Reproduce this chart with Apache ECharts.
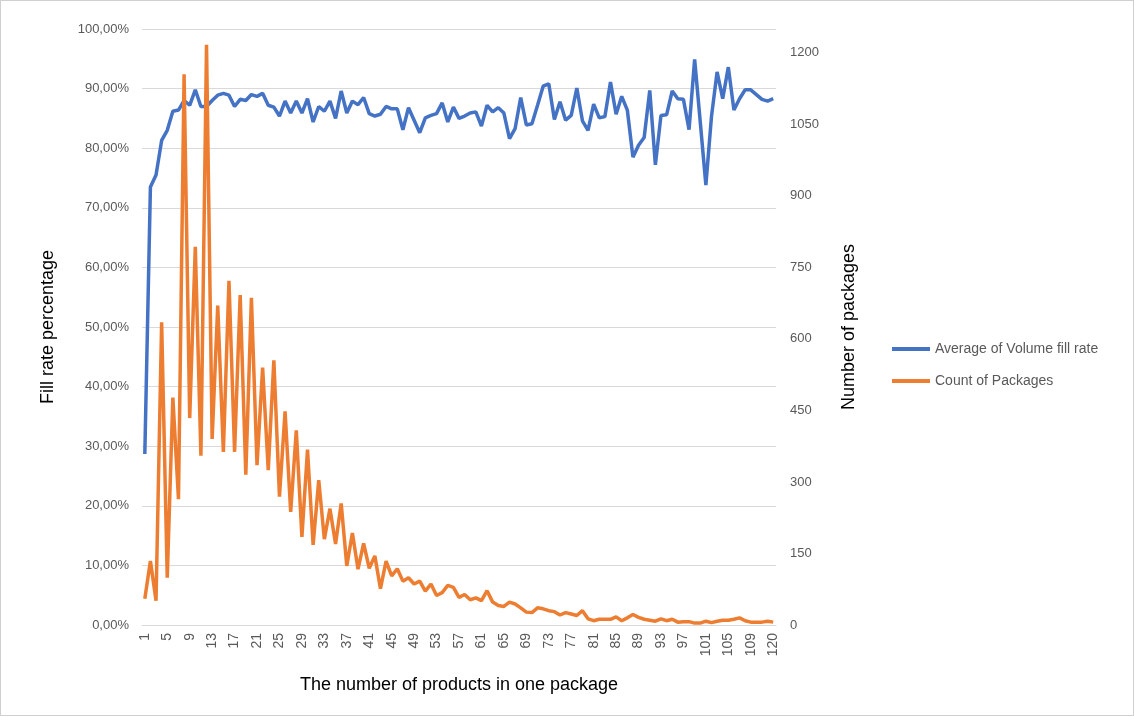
<!DOCTYPE html>
<html>
<head>
<meta charset="utf-8">
<script src="https://cdn.jsdelivr.net/npm/echarts@6/dist/echarts.min.js"></script>
<style>
    html, body { margin: 0; padding: 0; background: #fff; }
    #chart { width: 1132px; height: 714px; border: 1px solid #d0d0d0; }
</style>
</head>
<body>
<div id="chart"></div>
<script>
// categories: number of products in one package
let products = [];
for (let n = 1; n <= 109; n++) {
    products.push(String(n));
}
products.push('110', '111', '113', '120');

// average volume fill rate (%)
let fillRate = [
    28.7, 73.5, 75.5, 81.3, 83.0, 86.2, 86.4, 88.0, 87.2, 89.8,
    87.0, 87.0, 88.0, 88.9, 89.2, 88.9, 87.0, 88.2, 88.0, 89.0,
    88.7, 89.2, 87.2, 86.9, 85.4, 87.9, 85.9, 87.9, 85.9, 88.3,
    84.4, 87.0, 86.2, 87.9, 85.0, 89.6, 85.9, 87.9, 87.3, 88.5,
    85.8, 85.4, 85.7, 87.0, 86.6, 86.6, 83.1, 86.8, 84.7, 82.6,
    85.1, 85.5, 85.8, 87.6, 84.4, 86.9, 85.0, 85.4, 85.9, 86.1,
    83.7, 87.2, 86.1, 86.8, 85.9, 81.6, 83.3, 88.5, 83.9, 84.1,
    87.2, 90.4, 90.8, 84.8, 87.8, 84.7, 85.5, 90.1, 84.6, 83.0,
    87.4, 85.1, 85.3, 91.1, 85.7, 88.7, 86.4, 78.5, 80.5, 81.8,
    89.7, 77.2, 85.5, 85.6, 89.6, 88.3, 88.2, 83.1, 94.9, 84.4,
    73.8, 85.3, 92.8, 88.3, 93.6, 86.4, 88.3, 89.8, 89.8, 89.0,
    88.2, 87.9, 88.3
];

// count of packages
let packageCount = [
    55, 134, 51, 635, 99, 477, 264, 1155, 434, 793,
    355, 1217, 390, 670, 363, 722, 363, 692, 315, 686,
    335, 540, 325, 555, 269, 448, 237, 408, 185, 368,
    168, 304, 180, 244, 170, 255, 124, 193, 117, 171,
    119, 145, 76, 134, 103, 118, 92, 99, 86, 92,
    71, 86, 62, 68, 83, 79, 58, 64, 53, 57,
    51, 72, 48, 41, 39, 48, 44, 36, 27, 26,
    36, 34, 30, 28, 21, 26, 23, 20, 30, 13,
    9, 12, 12, 12, 17, 9, 15, 22, 16, 12,
    10, 8, 13, 9, 12, 6, 7, 7, 4, 4,
    8, 5, 8, 10, 10, 12, 15, 9, 6, 6,
    6, 8, 6
];

let textColor = '#595959';
let gridColor = '#d9d9d9';
let font = 'Liberation Sans';

let chart = echarts.init(document.getElementById('chart'));

let option = {
    animation: false,
    textStyle: { fontFamily: font },
    grid: {
        left: 141,
        right: 357,
        top: 28,
        bottom: 90
    },
    legend: {
        orient: 'vertical',
        left: 886,
        top: 336,
        icon: 'rect',
        itemWidth: 38,
        itemHeight: 4,
        itemGap: 18,
        textStyle: { color: textColor, fontSize: 14, fontFamily: font },
        data: ['Average of Volume fill rate', 'Count of Packages']
    },
    xAxis: {
        type: 'category',
        data: products,
        boundaryGap: true,
        name: 'The number of products in one package',
        nameLocation: 'middle',
        nameGap: 51,
        nameTextStyle: { color: '#000', fontSize: 18, fontFamily: font },
        axisLine: { lineStyle: { color: gridColor, width: 1 } },
        axisTick: { show: false },
        axisLabel: {
            interval: 3,
            rotate: 90,
            color: textColor,
            fontSize: 14,
            margin: 8
        }
    },
    yAxis: [
        {
            type: 'value',
            min: 0,
            max: 100,
            interval: 10,
            name: 'Fill rate percentage',
            nameLocation: 'middle',
            nameRotate: 90,
            nameGap: 85,
            nameTextStyle: { color: '#000', fontSize: 18, fontFamily: font },
            axisLine: { show: false },
            axisTick: { show: false },
            axisLabel: {
                color: textColor,
                fontSize: 13,
                margin: 13,
                formatter: function (v) {
                    return v.toFixed(2).replace('.', ',') + '%';
                }
            },
            splitLine: { lineStyle: { color: gridColor, width: 1 } }
        },
        {
            type: 'value',
            position: 'right',
            min: 0,
            max: 1250,
            interval: 150,
            name: 'Number of packages',
            nameLocation: 'middle',
            nameRotate: 90,
            nameGap: 64,
            nameTextStyle: { color: '#000', fontSize: 18, fontFamily: font },
            axisLine: { show: false },
            axisTick: { show: false },
            axisLabel: {
                color: textColor,
                fontSize: 13,
                margin: 14,
                showMaxLabel: false,
                formatter: function (v) {
                    return String(v);
                }
            },
            splitLine: { show: false }
        }
    ],
    series: [
        {
            name: 'Average of Volume fill rate',
            type: 'line',
            yAxisIndex: 0,
            data: fillRate,
            symbol: 'none',
            lineStyle: { color: '#4472C4', width: 3.5 },
            itemStyle: { color: '#4472C4' },
            z: 2
        },
        {
            name: 'Count of Packages',
            type: 'line',
            yAxisIndex: 1,
            data: packageCount,
            symbol: 'none',
            lineStyle: { color: '#ED7D31', width: 3.5 },
            itemStyle: { color: '#ED7D31' },
            z: 3
        }
    ]
};

chart.setOption(option);
</script>
</body>
</html>
